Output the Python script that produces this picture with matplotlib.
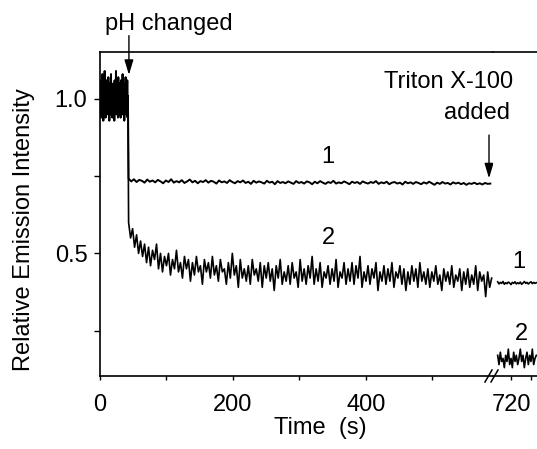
import numpy as np
from matplotlib import pyplot as plt

plt.rcParams["font.family"] = ["Liberation Sans", "DejaVu Sans"]
plt.rcParams["font.size"] = 17

# before the pH change (both samples together), 0.5 s steps from 0 s
t_pre_step = 0.5
pre = [0.98, 1.03, 0.95, 1.06, 0.99, 0.94, 1.04, 1.08, 0.97, 1.01, 0.93, 1.05, 1.00, 0.96, 1.09, 0.98, 1.02, 0.94, 1.03, 0.99,
       1.06, 0.95, 1.01, 1.04, 0.97, 1.07, 0.96, 1.00, 0.93, 1.05, 0.98, 1.03, 0.95, 1.08, 1.00, 0.97, 1.04, 0.94, 1.02, 0.99,
       1.05, 0.96, 1.01, 0.93, 1.06, 0.98, 1.03, 0.97, 1.09, 0.95, 1.00, 1.04, 0.96, 1.02, 0.94, 1.07, 0.99, 1.01, 0.95, 1.05,
       0.97, 1.03, 0.94, 1.06, 1.00, 0.96, 1.04, 0.98, 1.08, 0.95, 1.02, 0.97, 1.05, 0.93, 1.01, 1.04, 0.96, 1.07, 0.99, 0.95,
       1.03, 0.98, 1.06, 0.94, 1.01]

# curve 1 after the pH change, 4 s steps from 43 s
t1_start, t1_step = 43, 4
curve1 = [0.742, 0.733, 0.740, 0.731, 0.738, 0.735, 0.729, 0.739, 0.732, 0.736,
          0.730, 0.738, 0.733, 0.727, 0.736, 0.731, 0.740, 0.729, 0.734, 0.730,
          0.737, 0.728, 0.733, 0.739, 0.730, 0.735, 0.727, 0.734, 0.731, 0.737,
          0.729, 0.735, 0.732, 0.726, 0.736, 0.730, 0.733, 0.728, 0.737, 0.731,
          0.727, 0.734, 0.730, 0.736, 0.728, 0.732, 0.725, 0.735, 0.729, 0.733,
          0.730, 0.726, 0.735, 0.729, 0.732, 0.724, 0.734, 0.728, 0.731, 0.727,
          0.733, 0.729, 0.725, 0.734, 0.728, 0.731, 0.726, 0.733, 0.730, 0.724,
          0.732, 0.727, 0.734, 0.729, 0.725, 0.731, 0.728, 0.735, 0.726, 0.730,
          0.727, 0.733, 0.729, 0.724, 0.732, 0.728, 0.731, 0.725, 0.733, 0.729,
          0.726, 0.731, 0.728, 0.734, 0.725, 0.730, 0.727, 0.732, 0.724, 0.729,
          0.731, 0.726, 0.729, 0.723, 0.732, 0.727, 0.730, 0.725, 0.731, 0.728,
          0.724, 0.730, 0.726, 0.732, 0.727, 0.722, 0.729, 0.725, 0.731, 0.726,
          0.728, 0.723, 0.730, 0.726, 0.729, 0.724, 0.728, 0.722, 0.727, 0.725,
          0.729, 0.724, 0.727, 0.723, 0.728, 0.725, 0.726]

# curve 2 after the pH change, 3 s steps from 43 s
t2_start, t2_step = 43, 3
curve2 = [0.60, 0.55, 0.58, 0.52, 0.56, 0.50, 0.54, 0.49, 0.53, 0.47,
          0.52, 0.46, 0.51, 0.48, 0.53, 0.45, 0.50, 0.44, 0.49, 0.46,
          0.50, 0.43, 0.48, 0.45, 0.51, 0.44, 0.47, 0.42, 0.49, 0.45,
          0.48, 0.41, 0.47, 0.43, 0.49, 0.44, 0.46, 0.40, 0.48, 0.44,
          0.47, 0.42, 0.49, 0.43, 0.46, 0.41, 0.48, 0.44, 0.45, 0.40,
          0.47, 0.42, 0.50, 0.43, 0.46, 0.39, 0.48, 0.42, 0.45, 0.41,
          0.46, 0.40, 0.48, 0.43, 0.45, 0.41, 0.47, 0.39, 0.46, 0.42,
          0.47, 0.41, 0.45, 0.38, 0.46, 0.42, 0.48, 0.40, 0.44, 0.41,
          0.46, 0.40, 0.47, 0.42, 0.44, 0.39, 0.48, 0.41, 0.45, 0.40,
          0.46, 0.42, 0.49, 0.40, 0.45, 0.41, 0.47, 0.39, 0.44, 0.42,
          0.46, 0.40, 0.45, 0.41, 0.48, 0.39, 0.44, 0.42, 0.47, 0.40,
          0.45, 0.41, 0.47, 0.40, 0.46, 0.42, 0.49, 0.39, 0.44, 0.41,
          0.46, 0.40, 0.45, 0.42, 0.47, 0.38, 0.44, 0.41, 0.46, 0.40,
          0.45, 0.41, 0.47, 0.39, 0.44, 0.42, 0.46, 0.40, 0.45, 0.38,
          0.44, 0.40, 0.46, 0.41, 0.45, 0.39, 0.47, 0.41, 0.44, 0.40,
          0.45, 0.39, 0.44, 0.41, 0.46, 0.40, 0.43, 0.38, 0.45, 0.41,
          0.44, 0.40, 0.46, 0.39, 0.43, 0.41, 0.45, 0.38, 0.44, 0.40,
          0.45, 0.39, 0.43, 0.40, 0.46, 0.38, 0.44, 0.41, 0.43, 0.36,
          0.44, 0.39, 0.42]

# after Triton X-100, 2 s steps from 700 s
t_tx_start, t_tx_step = 700, 2
curve1_tx = [0.408, 0.401, 0.406, 0.403, 0.409, 0.400, 0.405, 0.402, 0.407, 0.404,
             0.399, 0.406, 0.403, 0.408, 0.401, 0.405, 0.402, 0.407, 0.400, 0.404,
             0.409, 0.403, 0.406, 0.401, 0.405, 0.408, 0.402, 0.406, 0.403, 0.405]
curve2_tx = [0.17, 0.14, 0.18, 0.15, 0.16, 0.13, 0.17, 0.15, 0.19, 0.14,
             0.16, 0.13, 0.18, 0.15, 0.17, 0.14, 0.16, 0.19, 0.15, 0.17,
             0.13, 0.16, 0.18, 0.14, 0.17, 0.15, 0.19, 0.14, 0.16, 0.17]

W, H = 537, 449


def fig_xy(px, py):
    return px / W, 1 - py / H


t_pre = np.arange(len(pre)) * t_pre_step
t1 = t1_start + np.arange(len(curve1)) * t1_step
t2 = t2_start + np.arange(len(curve2)) * t2_step
t_tx = t_tx_start + np.arange(len(curve1_tx)) * t_tx_step

fig = plt.figure(figsize=(W / 100, H / 100), dpi=100)
y0, y1 = 1 - 376 / H, 1 - 52 / H
ax = fig.add_axes([100 / W, y0, (493 - 100) / W, y1 - y0])
ax2 = fig.add_axes([493 / W, y0, (W - 493) / W, y1 - y0])

ax.plot(np.concatenate([t_pre, t2]), pre + curve2, color="k", lw=1.2)
ax.plot(np.concatenate([t_pre, t1]), pre + curve1, color="k", lw=1.4)
ax2.plot(t_tx, curve1_tx, color="k", lw=1.2)
ax2.plot(t_tx, curve2_tx, color="k", lw=1.2)

ylim = (0.103, 1.152)
ax.set_xlim(0, 591)
ax2.set_xlim(693, 759)
for a in (ax, ax2):
    a.set_ylim(*ylim)
    for s in a.spines.values():
        s.set_linewidth(1.2)
    a.tick_params(axis="x", which="both", direction="out", length=3, width=1, pad=10)
    a.tick_params(axis="y", which="both", direction="out", length=4, width=1, pad=5)

ax.spines["right"].set_visible(False)
ax2.spines["left"].set_visible(False)
ax2.spines["right"].set_visible(False)

ax.set_xticks([0, 200, 400])
ax.set_xticks([100, 300, 500], minor=True)
ax.set_yticks([0.5, 1.0])
ax.set_yticklabels(["0.5", "1.0"])
ax.set_yticks([0.25, 0.75], minor=True)
ax2.set_xticks([720])
ax2.set_xticks([750], minor=True)
ax2.set_yticks([])

# break marks on the time axis
for bx in (485, 491):
    x_a, y_a = fig_xy(bx, 382)
    x_b, y_b = fig_xy(bx + 7, 370)
    fig.add_artist(plt.Line2D([x_a, x_b], [y_a, y_b], color="k", lw=1.1))

arrow = dict(arrowstyle="-|>,head_length=0.5,head_width=0.15", color="k", lw=1,
             mutation_scale=18, shrinkA=0, shrinkB=0)
ax.annotate("", xy=(43.5, 1.078), xytext=(43.5, 1.205), arrowprops=arrow,
            annotation_clip=False)
ax.annotate("", xy=(585, 0.743), xytext=(585, 0.883), arrowprops=arrow,
            annotation_clip=False)

fig.text(*fig_xy(169, 24), "pH changed", ha="center", va="center")
fig.text(*fig_xy(513, 82), "Triton X-100", ha="right", va="center")
fig.text(*fig_xy(510, 113), "added", ha="right", va="center")

ax.text(343, 0.812, "1", ha="center", va="center")
ax.text(343, 0.549, "2", ha="center", va="center")
ax2.text(731, 0.471, "1", ha="center", va="center")
ax2.text(736, 0.24, "2", ha="center", va="center")

fig.text(*fig_xy(320, 428), "Time  (s)", ha="center", va="center")
fig.text(*fig_xy(24, 230), "Relative Emission Intensity", ha="center", va="center",
         rotation=90)

fig.savefig("out.png", dpi=100)
